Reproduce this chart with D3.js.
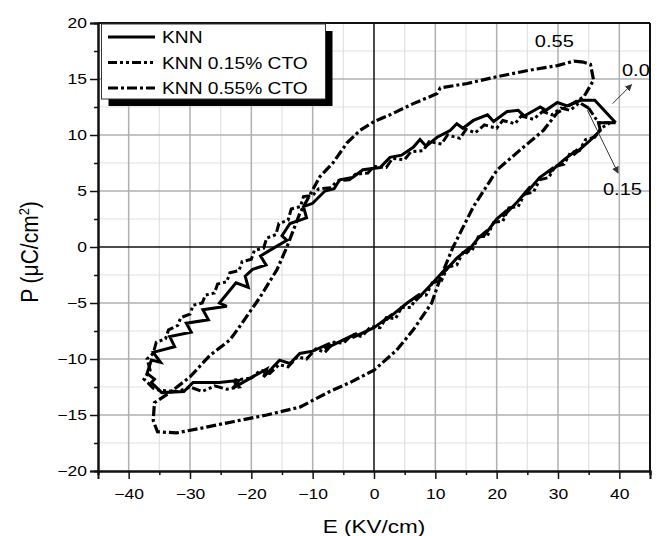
<!DOCTYPE html>
<html><head><meta charset="utf-8">
<script src="https://cdn.jsdelivr.net/npm/d3@7"></script>
<style>body{margin:0;background:#fff}text{font-family:"Liberation Sans",Arial,sans-serif;fill:#000}</style>
</head><body><svg id="c" width="660" height="536"></svg>
<script>
// ---------- data ----------
const seriesNames = ["KNN", "KNN 0.15% CTO", "KNN 0.55% CTO"];
const annotationLabels = ["0.55", "0.0", "0.15"];
const xTicks = [-40, -30, -20, -10, 0, 10, 20, 30, 40];
const yTicks = [-20, -15, -10, -5, 0, 5, 10, 15, 20];
const xMinor = [-45, -35, -25, -15, -5, 5, 15, 25, 35, 45];
const yMinor = [-17.5, -12.5, -7.5, -2.5, 2.5, 7.5, 12.5, 17.5];
const xTitle = "E (KV/cm)";

// [E (kV/cm), P (uC/cm2)] loops
const knn = [[39.4,11.1],[36.0,13.1],[33.7,13.1],[31.5,12.6],[29.9,12.9],[28.0,12.2],[27.1,12.5],[24.5,11.7],[23.5,12.2],[21.7,12.1],[19.5,11.2],[18.5,11.8],[16.2,11.3],[14.5,10.6],[13.5,11.0],[12.4,10.4],[10.3,9.8],[8.5,9.0],[7.5,9.6],[6.4,8.9],[4.5,8.2],[2.6,8.0],[1.0,7.1],[-1.8,6.9],[-3.5,6.2],[-5.6,6.0],[-6.5,5.2],[-8.0,5.0],[-10.0,3.9],[-11.5,3.6],[-11.0,2.6],[-13.7,2.1],[-15.0,1.0],[-14.2,0.6],[-17.0,-0.3],[-18.5,-0.8],[-17.6,-1.6],[-19.8,-2.0],[-21.0,-2.6],[-20.5,-3.6],[-22.5,-3.2],[-25.2,-5.0],[-24.0,-5.3],[-27.9,-5.6],[-27.0,-6.5],[-30.6,-6.8],[-29.8,-7.6],[-33.3,-8.0],[-32.5,-8.9],[-36.0,-9.4],[-34.8,-10.3],[-36.3,-10.1],[-37.0,-11.3],[-35.8,-11.8],[-36.3,-12.1],[-34.6,-13.0],[-31.0,-12.9],[-29.5,-12.1],[-25.2,-12.1],[-22.0,-11.9],[-23.0,-12.6],[-19.8,-11.6],[-17.5,-10.9],[-18.0,-11.6],[-15.4,-10.1],[-13.7,-10.4],[-12.1,-9.5],[-10.0,-9.3],[-7.2,-8.6],[-8.0,-9.1],[-5.0,-8.3],[-2.8,-7.7],[-3.5,-8.1],[0.0,-7.2],[1.0,-6.8],[3.0,-6.0],[2.0,-6.5],[5.4,-5.0],[7.5,-4.2],[6.8,-4.8],[9.6,-3.2],[11.9,-1.8],[11.0,-2.5],[13.5,-1.0],[15.7,0.0],[15.0,-0.6],[17.0,0.8],[18.5,1.5],[17.8,0.9],[20.0,2.5],[21.7,3.3],[21.0,2.7],[23.5,4.1],[25.5,5.4],[24.8,4.8],[27.0,6.2],[29.3,7.1],[28.5,6.6],[31.0,7.8],[33.2,8.7],[32.5,8.2],[35.0,9.4],[36.9,10.4],[36.6,11.1],[39.4,11.1]];

const cto015 = [[35.0,12.4],[33.5,12.9],[32.0,12.2],[30.5,12.4],[29.0,11.8],[27.5,12.1],[26.0,11.4],[24.0,11.7],[23.0,11.0],[21.0,11.3],[20.0,10.6],[18.0,10.9],[16.5,10.2],[15.0,10.5],[14.0,9.7],[12.0,10.0],[11.0,9.2],[9.0,9.4],[8.0,8.6],[6.0,8.5],[5.0,7.8],[3.0,7.9],[2.0,7.1],[0.0,7.2],[-1.0,6.6],[-3.0,6.5],[-4.0,6.0],[-6.0,5.9],[-7.0,5.3],[-9.0,5.2],[-10.0,4.6],[-11.5,4.5],[-12.0,3.6],[-13.5,3.4],[-14.0,2.4],[-15.5,2.1],[-16.0,1.1],[-17.5,0.8],[-18.0,-0.1],[-19.5,-0.3],[-20.0,-1.1],[-21.5,-1.3],[-22.0,-2.1],[-23.5,-2.3],[-24.0,-3.1],[-25.5,-3.3],[-26.0,-4.1],[-27.5,-4.3],[-28.0,-5.0],[-29.5,-5.2],[-30.0,-6.0],[-31.5,-6.3],[-32.0,-7.0],[-33.5,-7.4],[-34.0,-8.2],[-35.5,-8.5],[-36.0,-9.5],[-37.0,-10.0],[-36.5,-11.0],[-37.5,-11.8],[-36.0,-12.6],[-35.0,-12.8],[-32.0,-12.9],[-30.0,-12.5],[-28.0,-12.9],[-26.0,-12.4],[-24.0,-12.7],[-22.0,-12.5],[-23.0,-11.9],[-20.0,-11.7],[-18.5,-11.0],[-17.0,-11.3],[-15.5,-10.5],[-14.0,-10.7],[-12.5,-9.8],[-11.0,-10.0],[-9.5,-9.1],[-8.0,-9.4],[-6.5,-8.5],[-5.0,-8.6],[-3.5,-7.8],[-2.0,-8.0],[-0.5,-7.1],[1.0,-7.2],[2.0,-6.3],[3.5,-6.4],[4.5,-5.4],[6.0,-5.4],[7.0,-4.4],[8.5,-4.3],[9.5,-3.2],[11.0,-3.0],[12.0,-1.8],[13.5,-1.6],[14.5,-0.5],[16.0,-0.3],[17.0,0.9],[18.5,1.0],[19.5,2.2],[21.0,2.3],[22.0,3.5],[23.5,3.6],[24.5,4.7],[26.0,4.9],[27.0,6.0],[28.5,6.2],[29.5,7.2],[31.0,7.4],[32.0,8.4],[33.5,8.6],[34.5,9.6],[36.0,9.8],[37.0,10.6],[38.5,11.1],[36.6,11.1],[35.0,12.4]];

const cto055 = [[34.2,16.5],[32.6,16.6],[29.9,16.2],[25.5,15.8],[20.0,15.2],[15.2,14.6],[10.8,14.2],[10.3,13.7],[6.4,12.8],[2.6,11.8],[0.0,11.2],[-2.3,10.4],[-4.4,9.3],[-6.7,7.5],[-8.8,6.3],[-10.0,5.1],[-12.1,3.0],[-14.2,0.0],[-15.8,-2.0],[-18.6,-4.5],[-21.9,-7.1],[-23.5,-8.3],[-26.8,-9.7],[-30.0,-11.6],[-33.3,-13.0],[-35.8,-13.9],[-36.0,-15.5],[-35.3,-16.5],[-32.2,-16.6],[-28.4,-16.2],[-23.0,-15.6],[-17.5,-15.0],[-12.1,-14.3],[-7.2,-12.9],[-3.9,-12.1],[0.0,-11.0],[3.7,-9.2],[6.4,-7.4],[9.4,-5.0],[11.0,-2.5],[12.9,0.0],[16.2,3.6],[20.1,6.9],[23.9,8.7],[27.6,10.4],[29.9,12.0],[34.2,13.4],[35.8,14.9],[35.3,16.3],[34.2,16.5]];

const seriesData = [knn, cto015, cto055];
const seriesDash = [null, "9,3,3,3,3,3", "10,3,3,3"];
const seriesWidth = [3, 3, 3.2];

// ---------- layout ----------
const svg = d3.select("#c");
const L = 98, R = 650, T = 23, B = 471;
const x = d3.scaleLinear().domain([-45, 45]).range([L, R]);
const y = d3.scaleLinear().domain([-20, 20]).range([B, T]);
const SX = 1.25;

// minor grid
svg.append("g").selectAll("line").data(xMinor.filter(v => v > -45 && v < 45)).join("line")
  .attr("x1", d => x(d)).attr("x2", d => x(d)).attr("y1", T).attr("y2", B)
  .attr("stroke", "#e2e2e2").attr("stroke-width", 1.2);
svg.append("g").selectAll("line").data(yMinor).join("line")
  .attr("y1", d => y(d)).attr("y2", d => y(d)).attr("x1", L).attr("x2", R)
  .attr("stroke", "#e2e2e2").attr("stroke-width", 1.2);
// major grid
svg.append("g").selectAll("line").data(xTicks.filter(v => v !== 0)).join("line")
  .attr("x1", d => x(d)).attr("x2", d => x(d)).attr("y1", T).attr("y2", B)
  .attr("stroke", "#b0b0b0").attr("stroke-width", 1.5);
svg.append("g").selectAll("line").data(yTicks.filter(v => v !== 0 && Math.abs(v) !== 20)).join("line")
  .attr("y1", d => y(d)).attr("y2", d => y(d)).attr("x1", L).attr("x2", R)
  .attr("stroke", "#b0b0b0").attr("stroke-width", 1.5);
// zero lines
svg.append("line").attr("x1", x(0)).attr("x2", x(0)).attr("y1", T).attr("y2", B).attr("stroke", "#111").attr("stroke-width", 1.5);
svg.append("line").attr("y1", y(0)).attr("y2", y(0)).attr("x1", L).attr("x2", R).attr("stroke", "#111").attr("stroke-width", 1.5);

// series
const line = d3.line().x(d => x(d[0])).y(d => y(d[1]));
seriesData.forEach((s, i) => {
  svg.append("path").datum(s).attr("d", line)
    .attr("fill", "none").attr("stroke", "#000")
    .attr("stroke-width", seriesWidth[i])
    .attr("stroke-linejoin", "miter").attr("stroke-miterlimit", 3)
    .attr("stroke-dasharray", seriesDash[i]);
});

// axes
const xAx = svg.append("g").attr("transform", `translate(0,${B})`)
  .call(d3.axisBottom(x).tickValues(xTicks).tickSize(8).tickFormat(d3.format("d")));
svg.append("g").attr("transform", `translate(0,${B})`)
  .call(d3.axisBottom(x).tickValues(xMinor).tickSize(4).tickFormat(""));
const yAx = svg.append("g").attr("transform", `translate(${L},0)`)
  .call(d3.axisLeft(y).tickValues(yTicks).tickSize(8).tickFormat(d3.format("d")));
svg.append("g").attr("transform", `translate(${L},0)`)
  .call(d3.axisLeft(y).tickValues(yMinor).tickSize(4).tickFormat(""));
svg.selectAll(".domain").attr("stroke", "#111").attr("stroke-width", 2);
svg.selectAll(".tick line").attr("stroke", "#111").attr("stroke-width", 1.5);
xAx.selectAll("text").attr("y", 28).attr("dy", 0).attr("font-size", 14)
  .attr("transform", `scale(${SX},1)`).style("fill", "#000");
yAx.selectAll("text").attr("x", -11 / SX).attr("dy", "0.35em").attr("font-size", 14)
  .attr("transform", `scale(${SX},1)`).style("fill", "#000");
svg.selectAll(".tick text").attr("font-family", null);

// frame top/right
svg.append("line").attr("x1", L).attr("x2", R).attr("y1", T).attr("y2", T).attr("stroke", "#111").attr("stroke-width", 2);
svg.append("line").attr("x1", R).attr("x2", R).attr("y1", T).attr("y2", B).attr("stroke", "#111").attr("stroke-width", 2);

// axis titles
svg.append("text").attr("transform", `translate(${x(0)},533) scale(${SX},1)`)
  .attr("text-anchor", "middle").attr("font-size", 18).text(xTitle);
const yt = svg.append("text").attr("transform", `translate(38,252) scale(1.1,1) rotate(-90)`)
  .attr("text-anchor", "middle").attr("font-size", 21);
yt.append("tspan").text("P (\u03BCC/cm");
yt.append("tspan").attr("dy", -8).attr("font-size", 13).text("2");
yt.append("tspan").attr("dy", 8).text(")");

// legend
const lg = svg.append("g");
lg.append("rect").attr("x", 108.5).attr("y", 31).attr("width", 224).attr("height", 75).attr("fill", "#000");
lg.append("rect").attr("x", 101.5).attr("y", 24).attr("width", 224).attr("height", 75)
  .attr("fill", "#fff").attr("stroke", "#333").attr("stroke-width", 1);
seriesNames.forEach((n, i) => {
  const yy = 37 + i * 25.5;
  lg.append("line").attr("x1", 108).attr("x2", 155).attr("y1", yy).attr("y2", yy)
    .attr("stroke", "#000").attr("stroke-width", 3).attr("stroke-dasharray", seriesDash[i]);
  lg.append("text").attr("transform", `translate(162,${yy + 6}) scale(1.2,1)`)
    .attr("font-size", 16).text(n);
});

// annotations
svg.append("defs").append("marker").attr("id", "ah").attr("viewBox", "0 0 10 10")
  .attr("refX", 9).attr("refY", 5).attr("markerWidth", 7).attr("markerHeight", 7).attr("orient", "auto")
  .append("path").attr("d", "M0,0L10,5L0,10z").attr("fill", "#333");
svg.append("text").attr("transform", `translate(${x(29.4)},${y(17.9)}) scale(${SX},1)`)
  .attr("text-anchor", "middle").attr("font-size", 16).text(annotationLabels[0]);
svg.append("text").attr("transform", `translate(622,76) scale(${SX},1)`)
  .attr("font-size", 16).text(annotationLabels[1]);
svg.append("text").attr("transform", `translate(603,195) scale(${SX},1)`)
  .attr("font-size", 16).text(annotationLabels[2]);
svg.append("line").attr("x1", x(38.9)).attr("y1", y(12.8)).attr("x2", x(42.0)).attr("y2", y(14.5))
  .attr("stroke", "#333").attr("stroke-width", 1).attr("marker-end", "url(#ah)");
svg.append("line").attr("x1", x(34.8)).attr("y1", y(12.2)).attr("x2", x(39.8)).attr("y2", y(6.6))
  .attr("stroke", "#333").attr("stroke-width", 1).attr("marker-end", "url(#ah)");
</script></body></html>
